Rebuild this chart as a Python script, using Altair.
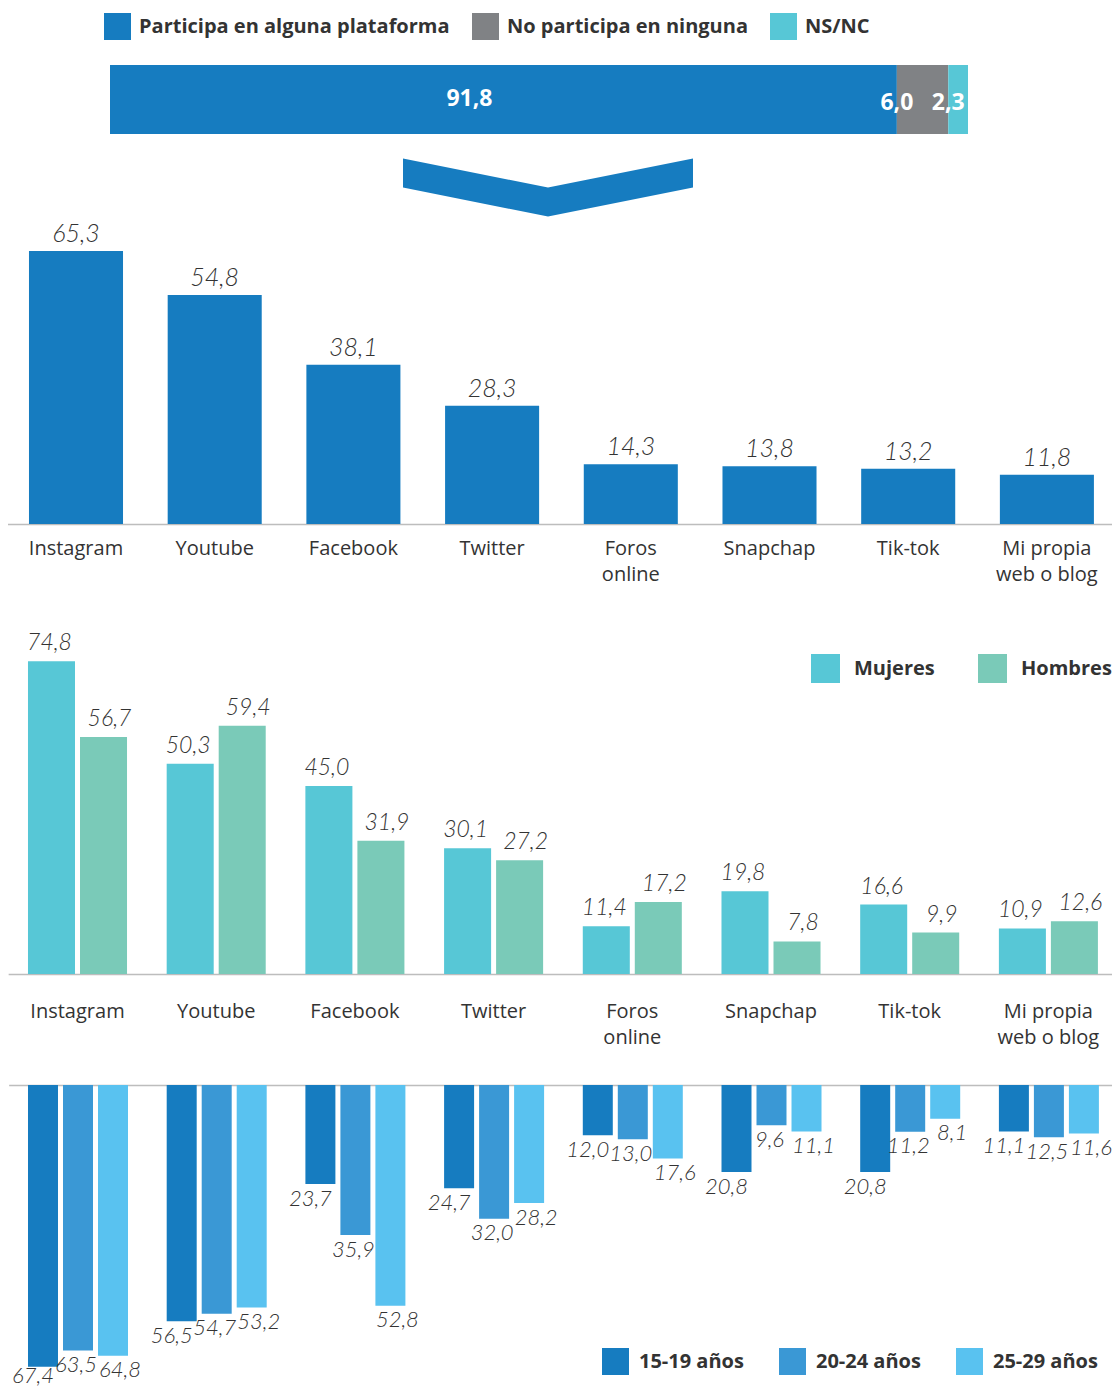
import altair as alt
import pandas as pd

# ---------------- data ----------------
platform_labels = ["Instagram", "Youtube", "Facebook", "Twitter", "Foros\nonline",
                   "Snapchap", "Tik-tok", "Mi propia\nweb o blog"]
total_values = [65.3, 54.8, 38.1, 28.3, 14.3, 13.8, 13.2, 11.8]

gender_cats = ["Mujeres", "Hombres"]
women = [74.8, 50.3, 45.0, 30.1, 11.4, 19.8, 16.6, 10.9]
men = [56.7, 59.4, 31.9, 27.2, 17.2, 7.8, 9.9, 12.6]

age_cats = ["15-19 años", "20-24 años", "25-29 años"]
age_15_19 = [67.4, 56.5, 23.7, 24.7, 12.0, 20.8, 20.8, 11.1]
age_20_24 = [63.5, 54.7, 35.9, 32.0, 13.0, 9.6, 11.2, 12.5]
age_25_29 = [64.8, 53.2, 52.8, 28.2, 17.6, 11.1, 8.1, 11.6]

participation_cats = ["Participa en alguna plataforma", "No participa en ninguna", "NS/NC"]
participation_vals = [91.8, 6.0, 2.3]

# ---------------- style ----------------
W, H = 1104, 1380
FONT = "Open Sans"
VFONT = "Lato"
TXT = "#333333"
BLUE = "#167cc0"
GRAY = "#808285"
TEAL = "#57c7d6"
MINT = "#7acab8"
AGE2 = "#3a98d5"
AGE3 = "#59c2f0"
AXIS_GRAY = "#bdbdbd"
FMT = "replace(format(datum.value, '.1f'), '.', ',')"
CHEVRON = "M-1,-0.2 L0,0 L1,-0.2 L1,0 L0,0.2 L-1,0 Z"


def legend(x, y, n, sym, offset, colpad):
    return alt.Legend(orient="none", legendX=x, legendY=y, direction="horizontal",
                      columns=n, title=None, symbolType="square", symbolSize=sym * sym,
                      symbolStrokeWidth=0, symbolOpacity=1, labelFont=FONT,
                      labelFontSize=20, labelFontWeight="bold", labelColor=TXT,
                      labelOffset=offset, columnPadding=colpad, padding=0, labelLimit=500)


def cat_axis(offset, show_labels, pad):
    return alt.Axis(orient="bottom", offset=offset, title=None, ticks=False, grid=False,
                    domainColor=AXIS_GRAY, domainWidth=1.5, labels=show_labels,
                    labelAngle=0, labelFont=FONT, labelFontSize=20, labelFontWeight=400,
                    labelColor=TXT, labelPadding=pad, labelLineHeight=26,
                    labelExpr="split(datum.value, '\\n')", labelOverlap=False,
                    labelFlush=False, labelBound=False, labelLimit=300)


def value_text(dy, size=25, dx=0):
    return dict(font=VFONT, fontSize=size, fontStyle="italic", fontWeight=300,
                color=TXT, dy=dy, dx=dx, baseline="middle", align="center")


# ---------------- participation stacked bar ----------------
part_df = pd.DataFrame({"cat": participation_cats, "value": participation_vals,
                        "idx": list(range(len(participation_cats))),
                        "row": ["Total"] * len(participation_cats)})
part_x_scale = alt.Scale(domain=[0, 100.1], range=[102, 960], nice=False)
part_y = alt.Y("row:N", axis=None,
               scale=alt.Scale(range=[57, 126], paddingInner=0, paddingOuter=0))

part_bar = alt.Chart(part_df).mark_bar().encode(
    x=alt.X("value:Q", stack="zero", scale=part_x_scale, axis=None),
    y=part_y,
    color=alt.Color("cat:N", scale=alt.Scale(domain=participation_cats,
                                             range=[BLUE, GRAY, TEAL]),
                    legend=legend(96, 5, 3, 27, 8, 22)),
    order=alt.Order("idx:Q"),
)
part_text_base = alt.Chart(part_df).transform_window(
    cum="sum(value)", sort=[alt.SortField("idx")], frame=[None, 0]
).transform_calculate(start="datum.cum - datum.value", mid="datum.cum - datum.value / 2",
                      label=FMT)
part_text_big = part_text_base.transform_filter("datum.idx == 0").mark_text(
    font=FONT, fontSize=23, fontWeight="bold", color="white", dx=-34, dy=-1
).encode(x=alt.X("mid:Q", scale=part_x_scale, axis=None), y=part_y, text="label:N")
part_text_small = part_text_base.transform_filter("datum.idx > 0").mark_text(
    font=FONT, fontSize=23, fontWeight="bold", color="white", dy=3
).encode(x=alt.X("start:Q", scale=part_x_scale, axis=None), y=part_y, text="label:N")

part_layer = alt.layer(part_bar, part_text_big, part_text_small)

chevron = alt.Chart(pd.DataFrame({"k": [0]})).mark_point(
    shape=CHEVRON, filled=True, size=84100, color=BLUE, opacity=1, strokeWidth=0
).encode(x=alt.value(540), y=alt.value(179.5))

# ---------------- total by platform ----------------
top_df = pd.DataFrame({"platform": platform_labels, "value": total_values})
top_x = alt.X("platform:N", sort=platform_labels,
              scale=alt.Scale(domain=platform_labels, range=[-1.35, 1108.25],
                              paddingInner=0.322, paddingOuter=0.161),
              axis=cat_axis(516 - H, True, 14))
top_y = alt.Y("value:Q", scale=alt.Scale(domain=[0, 100], range=[516, 98], nice=False),
              axis=None)
top_layer = alt.layer(
    alt.Chart(top_df).mark_bar(color=BLUE).encode(x=top_x, y=top_y),
    alt.Chart(top_df).transform_calculate(label=FMT).mark_text(**value_text(-17)).encode(
        x=top_x, y=top_y, text="label:N"),
)

# ---------------- by gender ----------------
gender_df = pd.DataFrame({
    "platform": platform_labels * 2,
    "sex": [gender_cats[0]] * len(women) + [gender_cats[1]] * len(men),
    "value": women + men,
})
g_x = alt.X("platform:N", sort=platform_labels,
            scale=alt.Scale(domain=platform_labels, range=[0.15, 1109.75],
                            paddingInner=0.286, paddingOuter=0.143),
            axis=cat_axis(966 - H, True, 27))
g_y = alt.Y("value:Q", scale=alt.Scale(domain=[0, 100], range=[966, 548], nice=False),
            axis=None)
g_off = alt.XOffset("sex:N", sort=gender_cats,
                    scale=alt.Scale(domain=gender_cats, paddingInner=0.096, paddingOuter=0))
g_bars = alt.Chart(gender_df).mark_bar().encode(
    x=g_x, xOffset=g_off, y=g_y,
    color=alt.Color("sex:N", scale=alt.Scale(domain=gender_cats, range=[TEAL, MINT]),
                    legend=legend(803, 646, 2, 29, 14, 43)),
)
g_texts = [
    alt.Chart(gender_df).transform_filter(alt.datum.sex == s).transform_calculate(label=FMT)
    .mark_text(**value_text(-18, size=23, dx=d)).encode(x=g_x, xOffset=g_off, y=g_y,
                                                         text="label:N")
    for s, d in zip(gender_cats, [-2, 6])
]
gender_layer = alt.layer(g_bars, *g_texts)

# ---------------- by age ----------------
age_df = pd.DataFrame({
    "platform": platform_labels * 3,
    "age": [age_cats[0]] * 8 + [age_cats[1]] * 8 + [age_cats[2]] * 8,
    "value": age_15_19 + age_20_24 + age_25_29,
})
a_x = alt.X("platform:N", sort=platform_labels,
            scale=alt.Scale(domain=platform_labels, range=[0.65, 1110.25],
                            paddingInner=0.279, paddingOuter=0.1395),
            axis=cat_axis(1077 - H, False, 0))
a_y_scale = alt.Scale(domain=[0, 100], range=[1077, 1495], nice=False)
a_y = alt.Y("value:Q", scale=a_y_scale, axis=None)
a_off = alt.XOffset("age:N", sort=age_cats,
                    scale=alt.Scale(domain=age_cats, paddingInner=0.143, paddingOuter=0))
a_bars = alt.Chart(age_df).mark_bar().encode(
    x=a_x, xOffset=a_off, y=a_y,
    color=alt.Color("age:N", scale=alt.Scale(domain=age_cats, range=[BLUE, AGE2, AGE3]),
                    legend=legend(594, 1340, 3, 27, 10, 35)),
)
a_texts = [
    alt.Chart(age_df).transform_filter(alt.datum.age == s)
    .transform_calculate(label=FMT, ly="min(datum.value + 3.5, 69.6)")
    .mark_text(**value_text(0, size=22, dx=d)).encode(
        x=a_x, xOffset=a_off, y=alt.Y("ly:Q", scale=a_y_scale, axis=None), text="label:N")
    for s, d in zip(age_cats, [-10, -2, 7])
]
age_layer = alt.layer(a_bars, *a_texts)

chart = alt.layer(part_layer, chevron, top_layer, gender_layer, age_layer).resolve_scale(
    x="independent", y="independent", color="independent", xOffset="independent"
).properties(
    width=W, height=H, autosize=alt.AutoSizeParams(type="none"), padding=0,
    background="white"
).configure_view(stroke=None)

chart.save("out.html", embed_options={"renderer": "svg", "actions": False})
